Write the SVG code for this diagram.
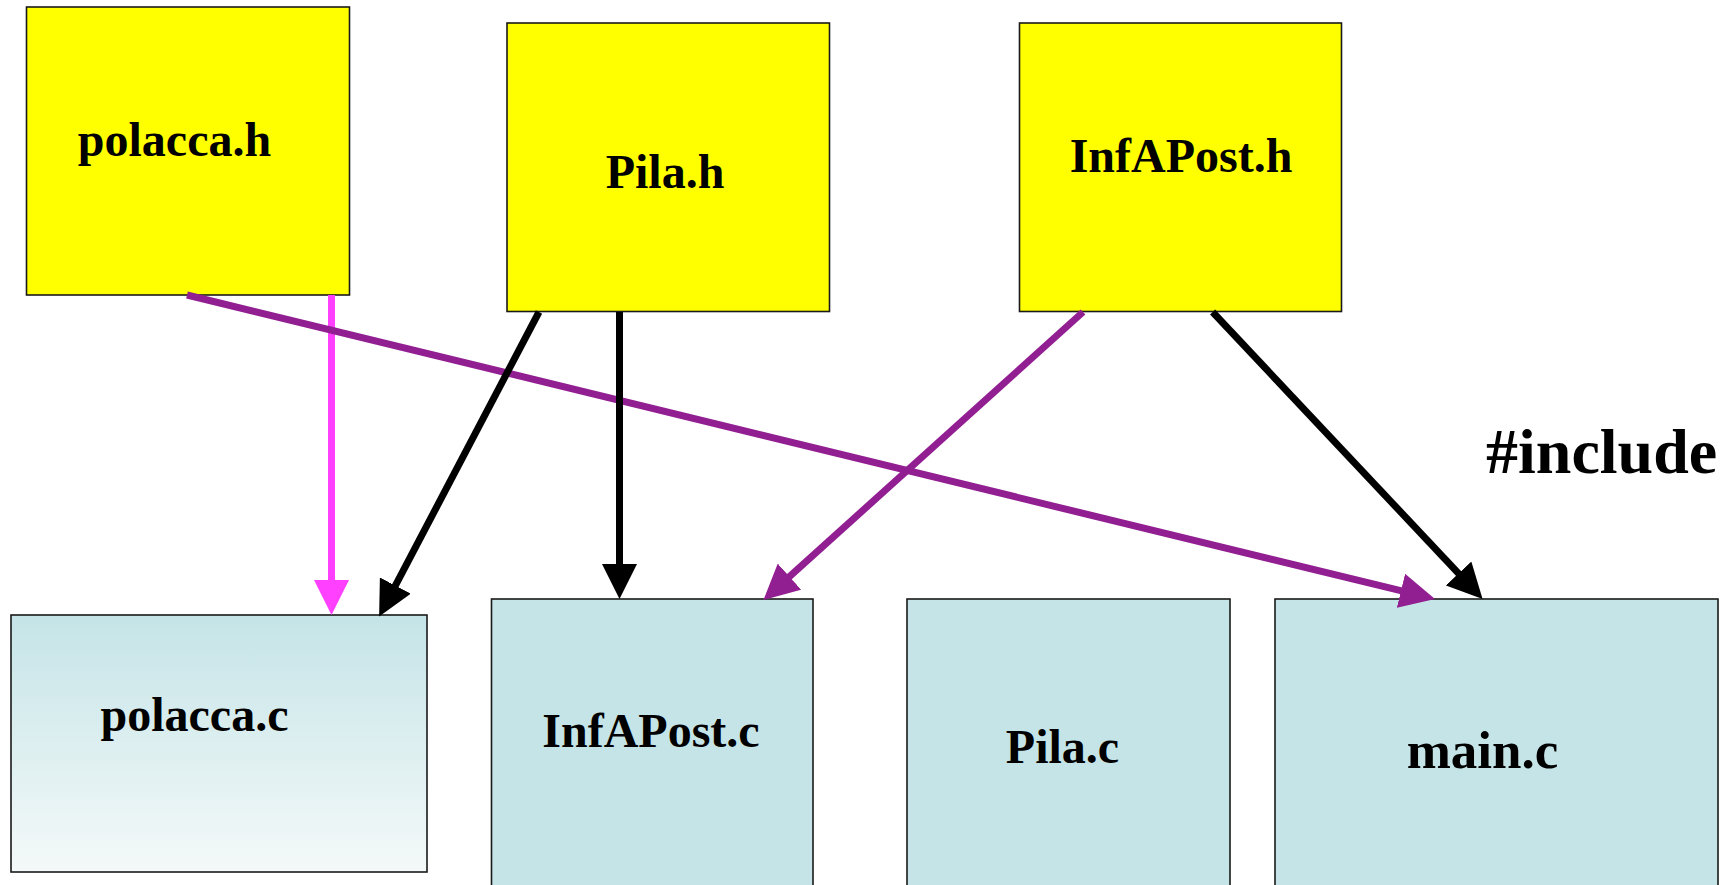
<svg xmlns="http://www.w3.org/2000/svg" width="1728" height="885" viewBox="0 0 1728 885">
<style>
.h{fill:#ffff00;stroke:#1a1a1a;stroke-width:1.6}
.c{fill:#c5e4e7;stroke:#1a1a1a;stroke-width:1.6}
.t{font-family:"Liberation Serif","Times New Roman",serif;font-weight:bold;font-size:48px;fill:#000;text-anchor:middle}
.e{fill:none;stroke-width:7}
</style>
<defs>
<linearGradient id="g1" x1="0" y1="0" x2="0" y2="1">
<stop offset="0" stop-color="#c5e4e7"/>
<stop offset="1" stop-color="#f4f9f9"/>
</linearGradient>
<marker id="aK" viewBox="0 0 35 35" refX="6" refY="17.5" markerWidth="35" markerHeight="35" markerUnits="userSpaceOnUse" orient="auto"><path d="M0,0 L35,17.5 L0,35 z" fill="#000"/></marker>
<marker id="aP" viewBox="0 0 35 35" refX="6" refY="17.5" markerWidth="35" markerHeight="35" markerUnits="userSpaceOnUse" orient="auto"><path d="M0,0 L35,17.5 L0,35 z" fill="#921f92"/></marker>
<marker id="aM" viewBox="0 0 35 35" refX="6" refY="17.5" markerWidth="35" markerHeight="35" markerUnits="userSpaceOnUse" orient="auto"><path d="M0,0 L35,17.5 L0,35 z" fill="#ff40ff"/></marker>
</defs>
<rect width="1728" height="885" fill="#fff"/>
<g id="n-polacca-h"><rect class="h" x="26.5" y="7" width="323" height="288"/><text class="t" x="174.5" y="156">polacca.h</text></g>
<g id="n-pila-h"><rect class="h" x="507" y="23" width="322.5" height="288.5"/><text class="t" x="665" y="188">Pila.h</text></g>
<g id="n-infapost-h"><rect class="h" x="1019.5" y="23" width="322" height="288.5"/><text class="t" x="1181" y="172">InfAPost.h</text></g>
<g id="n-polacca-c"><rect x="11" y="615" width="416" height="257" fill="url(#g1)" stroke="#1a1a1a" stroke-width="1.6"/><text class="t" x="194.5" y="731">polacca.c</text></g>
<g id="n-infapost-c"><rect class="c" x="491.5" y="599" width="321.5" height="300"/><text class="t" x="651" y="747">InfAPost.c</text></g>
<g id="n-pila-c"><rect class="c" x="907" y="599" width="323" height="300"/><text class="t" x="1062.5" y="763">Pila.c</text></g>
<g id="n-main-c"><rect class="c" x="1275" y="599" width="443" height="300"/><text class="t" x="1482.5" y="768" style="font-size:53px">main.c</text></g>
<g id="edges">
<line class="e" stroke="#ff40ff" x1="331.5" y1="295" x2="331.5" y2="586" marker-end="url(#aM)"/>
<line class="e" stroke="#921f92" x1="187" y1="295" x2="1406.8" y2="592.2" marker-end="url(#aP)"/>
<line class="e" stroke="#000" x1="539" y1="312" x2="392.6" y2="590.9" marker-end="url(#aK)"/>
<line class="e" stroke="#000" x1="619.5" y1="312" x2="619.5" y2="570" marker-end="url(#aK)"/>
<line class="e" stroke="#000" x1="1212.6" y1="312" x2="1462.7" y2="577.9" marker-end="url(#aK)"/>
<line class="e" stroke="#921f92" x1="1083" y1="312" x2="785" y2="580.6" marker-end="url(#aP)"/>
</g>
<text id="label-include" x="1486" y="473" style="font-family:'Liberation Serif','Times New Roman',serif;font-weight:bold;font-size:64px;fill:#000">#include</text>
</svg>
